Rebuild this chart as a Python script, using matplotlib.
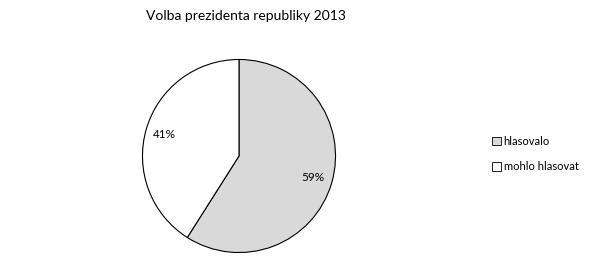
import matplotlib.pyplot as plt
from matplotlib.patches import Patch

labels = ['hlasovalo', 'mohlo hlasovat']
values = [59, 41]
colors = ['#d9d9d9', 'white']

plt.rcParams['font.family'] = ['Lato', 'DejaVu Sans']

fig = plt.figure(figsize=(5.95, 2.79), dpi=100)
ax = fig.add_axes([142 / 595, 26 / 279, 194 / 595, 194 / 279])
wedges, texts, autotexts = ax.pie(
    values, colors=colors, startangle=90, counterclock=False,
    autopct=lambda p: '%d%%' % round(p), pctdistance=0.8,
    wedgeprops=dict(edgecolor='black', linewidth=0.8),
    textprops=dict(fontsize=8.5))
ax.set_aspect('equal')
ax.set_xlim(-1.005, 1.005)
ax.set_ylim(-1.005, 1.005)

fig.text(246 / 595, 1 - 16 / 279, 'Volba prezidenta republiky 2013',
         ha='center', va='center', fontsize=10)

handles = [Patch(facecolor=c, edgecolor='black', linewidth=0.6) for c in colors]
fig.legend(handles, labels, loc='center left', bbox_to_anchor=(482 / 595, 1 - 154 / 279),
           frameon=False, fontsize=8, handlelength=0.8, handleheight=0.8,
           handletextpad=0.25, labelspacing=1.3)

fig.savefig('out.png', dpi=100)
